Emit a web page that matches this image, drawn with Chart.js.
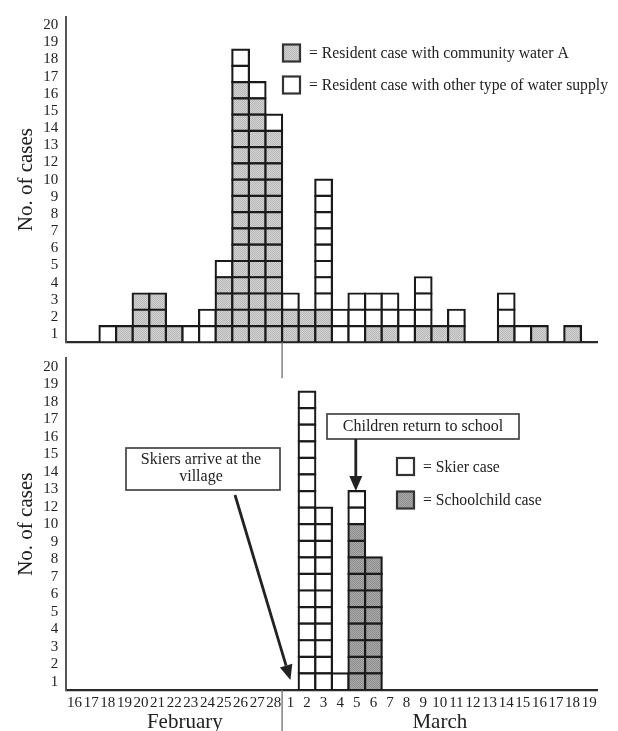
<!DOCTYPE html>
<html>
<head>
<meta charset="utf-8">
<script src="https://cdn.jsdelivr.net/npm/chart.js@4/dist/chart.umd.min.js"></script>
<style>
  html, body { margin: 0; padding: 0; background: #fff; }
  #wrap { position: relative; width: 618px; height: 731px; }
  .layer { position: absolute; left: 0; top: 0; width: 618px; height: 731px; }
</style>
</head>
<body>
<div id="wrap">
  <div class="layer"><canvas id="lower"></canvas></div>
  <div class="layer"><canvas id="upper"></canvas></div>
</div>
<script>
// Day of onset, 16 February to 19 March
const days = ['16','17','18','19','20','21','22','23','24','25','26','27','28',
              '1','2','3','4','5','6','7','8','9','10','11','12','13','14','15','16','17','18','19'];
const months = ['February', 'March'];

// Residents: cases on community water A / on another water supply
const residentWaterA = [0,0,0,1,3,3,1,0,0,4,16,15,13, 2,2,2,0,0,1,1,0,1,1,1,0,0,1,0,1,0,1,0];
const residentOther  = [0,0,1,0,0,0,0,1,2,1, 2, 1, 1, 1,0,8,2,3,2,2,2,3,0,1,0,0,2,1,0,0,0,0];

// Visitors and schoolchildren
const schoolchildCases = [0,0,0,0,0,0,0,0,0,0,0,0,0, 0,0,0,0,10,8,0,0,0,0,0,0,0,0,0,0,0,0,0];
const skierCases       = [0,0,0,0,0,0,0,0,0,0,0,0,0, 0,18,11,1,2,0,0,0,0,0,0,0,0,0,0,0,0,0,0];

// Case-count labels printed on the vertical axes (the series has no "11")
const yTickLabels = ['1','2','3','4','5','6','7','8','9','10','12','13','14','15','16','17','18','19','20'];

const SERIF = "'Liberation Serif', 'Times New Roman', serif";
const INK = '#1a1a1a';
const AXIS = '#555';
const WHITE = '#ffffff';

// Fine halftone screen for the shaded boxes
function screen(light, dark) {
  const c = document.createElement('canvas');
  c.width = 2; c.height = 2;
  const g = c.getContext('2d');
  g.fillStyle = light; g.fillRect(0, 0, 2, 2);
  g.fillStyle = dark; g.fillRect(0, 0, 1, 1); g.fillRect(1, 1, 1, 1);
  return g.createPattern(c, 'repeat');
}
const GRAY_LIGHT = screen('#d0d0d0', '#bababa');
const GRAY_DARK = screen('#a8a8a8', '#8e8e8e');

// One stacked dataset per row of boxes, so every case is its own outlined square
function boxLayers(lower, upper, lowerColor, upperColor) {
  const totals = lower.map((v, i) => v + upper[i]);
  const maxTotal = Math.max(...totals);
  const sets = [];
  for (let k = 0; k < maxTotal; k++) {
    sets.push({
      data: totals.map(t => (t > k ? 1 : null)),
      backgroundColor: lower.map(v => (k < v ? lowerColor : upperColor)),
      borderColor: INK,
      borderWidth: 2.2,
      inflateAmount: 1.1,
      borderSkipped: false,
      categoryPercentage: 1,
      barPercentage: 1,
      stack: 'cases'
    });
  }
  return sets;
}

// Axis labels spread evenly from the first to the last row
function placeYTicks(axis) {
  const first = 0.5, last = 19.5, n = yTickLabels.length;
  axis.ticks = yTickLabels.map((label, j) => ({ value: first + j * (last - first) / (n - 1) }));
}

function yAxis() {
  return {
    stacked: true,
    min: 0, max: 20,
    grid: { display: false, drawTicks: false },
    border: { display: true, color: AXIS, width: 2 },
    afterBuildTicks: placeYTicks,
    afterFit: s => { s.width = 66.3; },
    ticks: {
      autoSkip: false,
      padding: 8,
      color: '#222',
      font: { family: SERIF, size: 15 },
      callback: (v, i) => yTickLabels[i]
    },
    title: {
      display: true,
      text: 'No. of cases',
      color: '#222',
      padding: { top: 14, bottom: 0 },
      font: { family: SERIF, size: 21 }
    }
  };
}

function dividerX(chart) {
  const x = chart.scales.x;
  return (x.getPixelForValue(12) + x.getPixelForValue(13)) / 2;
}

function legendRow(ctx, x, y, fill, text) {
  ctx.save();
  ctx.fillStyle = fill;
  ctx.fillRect(x, y - 8.5, 17, 17);
  ctx.strokeStyle = '#333';
  ctx.lineWidth = 2.2;
  ctx.strokeRect(x, y - 8.5, 17, 17);
  ctx.fillStyle = '#222';
  ctx.font = '15.7px ' + SERIF;
  ctx.textBaseline = 'middle';
  ctx.textAlign = 'left';
  ctx.fillText(text, x + 26, y + 1);
  ctx.restore();
}

function noteBox(ctx, x0, y0, x1, y1, lines, cx, firstY, lineGap) {
  ctx.save();
  ctx.fillStyle = '#fff';
  ctx.fillRect(x0, y0, x1 - x0, y1 - y0);
  ctx.strokeStyle = '#444';
  ctx.lineWidth = 1.7;
  ctx.strokeRect(x0, y0, x1 - x0, y1 - y0);
  ctx.fillStyle = '#222';
  ctx.font = '16px ' + SERIF;
  ctx.textAlign = 'center';
  ctx.textBaseline = 'middle';
  lines.forEach((t, i) => ctx.fillText(t, cx, firstY + i * lineGap));
  ctx.restore();
}

function arrow(ctx, x0, y0, x1, y1) {
  const ang = Math.atan2(y1 - y0, x1 - x0);
  const len = 15, half = 6.5;
  const bx = x1 - len * Math.cos(ang), by = y1 - len * Math.sin(ang);
  ctx.save();
  ctx.strokeStyle = '#222';
  ctx.fillStyle = '#222';
  ctx.lineWidth = 2.8;
  ctx.beginPath();
  ctx.moveTo(x0, y0);
  ctx.lineTo(bx, by);
  ctx.stroke();
  ctx.beginPath();
  ctx.moveTo(x1, y1);
  ctx.lineTo(bx + half * Math.sin(ang), by - half * Math.cos(ang));
  ctx.lineTo(bx - half * Math.sin(ang), by + half * Math.cos(ang));
  ctx.closePath();
  ctx.fill();
  ctx.restore();
}

// ---------- Residents ----------
const upperDecor = {
  id: 'upperDecor',
  afterDraw(chart) {
    const ctx = chart.ctx, a = chart.chartArea;
    const dx = dividerX(chart);
    ctx.save();
    ctx.strokeStyle = '#777';
    ctx.lineWidth = 1.4;
    ctx.beginPath();
    ctx.moveTo(dx, a.bottom);
    ctx.lineTo(dx, a.bottom + 36);
    ctx.stroke();
    ctx.restore();
    legendRow(ctx, 283, 53, GRAY_LIGHT, '= Resident case with community water A');
    legendRow(ctx, 283, 85, WHITE, '= Resident case with other type of water supply');
  }
};

new Chart(document.getElementById('upper'), {
  type: 'bar',
  data: { labels: days, datasets: boxLayers(residentWaterA, residentOther, GRAY_LIGHT, WHITE) },
  options: {
    responsive: true,
    maintainAspectRatio: false,
    animation: false,
    events: [],
    layout: { padding: { top: 10.7, right: 20.5, bottom: 388.7, left: 0 } },
    plugins: { legend: { display: false }, tooltip: { enabled: false } },
    scales: {
      x: {
        stacked: true,
        grid: { display: false, drawTicks: false },
        border: { display: true, color: '#2a2a2a', width: 2.2 },
        ticks: { display: false },
        afterFit: s => { s.height = 0; }
      },
      y: yAxis()
    }
  },
  plugins: [upperDecor]
});

// ---------- Skiers and schoolchildren ----------
const lowerDecor = {
  id: 'lowerDecor',
  afterDraw(chart) {
    const ctx = chart.ctx, a = chart.chartArea;
    const xs = chart.scales.x, ys = chart.scales.y;
    const dx = dividerX(chart);
    ctx.save();
    ctx.strokeStyle = '#777';
    ctx.lineWidth = 1.4;
    ctx.beginPath();
    ctx.moveTo(dx, a.bottom);
    ctx.lineTo(dx, chart.height);
    ctx.stroke();

    // month names under the day numbers
    ctx.fillStyle = '#222';
    ctx.font = '21px ' + SERIF;
    ctx.textAlign = 'center';
    ctx.textBaseline = 'middle';
    ctx.fillText(months[0], xs.getPixelForValue(7) - 6, 722);
    ctx.fillText(months[1], (dx + a.right) / 2, 722);
    ctx.restore();

    // notes with arrows
    noteBox(ctx, 126, 448, 280, 490, ['Skiers arrive at the', 'village'], 201, 460, 16.5);
    arrow(ctx, 235, 495, xs.getPixelForValue(13), ys.getPixelForValue(0.6));
    noteBox(ctx, 327, 414, 519, 439, ['Children return to school'], 423, 427, 0);
    const x5 = xs.getPixelForValue(17);
    arrow(ctx, x5 - 1, 439, x5 - 1, ys.getPixelForValue(schoolchildCases[17] + skierCases[17]));

    legendRow(ctx, 397, 466.5, WHITE, '= Skier case');
    legendRow(ctx, 397, 500, GRAY_DARK, '= Schoolchild case');
  }
};

new Chart(document.getElementById('lower'), {
  type: 'bar',
  data: { labels: days, datasets: boxLayers(schoolchildCases, skierCases, GRAY_DARK, WHITE) },
  options: {
    responsive: true,
    maintainAspectRatio: false,
    animation: false,
    events: [],
    layout: { padding: { top: 358.4, right: 20.5, bottom: 0, left: 0 } },
    plugins: { legend: { display: false }, tooltip: { enabled: false } },
    scales: {
      x: {
        stacked: true,
        grid: { display: false, drawTicks: false },
        border: { display: true, color: '#2a2a2a', width: 2.2 },
        ticks: {
          autoSkip: false, maxRotation: 0, minRotation: 0, padding: 4,
          color: '#222', font: { family: SERIF, size: 15 }
        },
        afterFit: s => { s.height = 41; }
      },
      y: yAxis()
    }
  },
  plugins: [lowerDecor]
});
</script>
</body>
</html>
